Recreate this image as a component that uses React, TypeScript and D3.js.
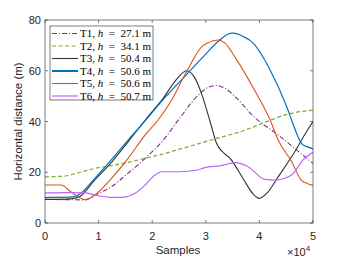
import * as d3 from 'd3';

// x values in samples, y in metres
const t1 = [[0, 9.3], [4000, 9.2], [7500, 9.1], [9300, 11], [12400, 14.3], [15500, 19.6], [18700, 25.5], [21800, 32], [25200, 41.5], [28300, 49.8], [30500, 53.5], [32000, 54.2], [33500, 53.2], [35800, 49.1], [38900, 42], [43500, 34.7], [46600, 29.4], [50000, 23.5]];
const t2 = [[0, 18.2], [3700, 18.5], [6200, 19.8], [9300, 21.5], [12400, 22.6], [15500, 23.9], [18700, 25.5], [21800, 27.1], [25000, 29], [31000, 32.7], [37300, 36.6], [41300, 39.9], [45100, 42.8], [50000, 44.5]];
const t3 = [[0, 9.3], [4000, 9.4], [6200, 10.1], [9300, 17], [12400, 23.9], [15500, 32], [18700, 40.6], [22000, 49], [24500, 56.5], [26400, 60], [28000, 57], [29200, 51], [30800, 40], [32000, 31.4], [34800, 24.8], [37300, 16.3], [38800, 11.5], [40000, 9.7], [41500, 12], [43500, 18.2], [46600, 28.1], [48500, 35], [50000, 40]];
const t4 = [[0, 10.1], [4500, 10.2], [6200, 11], [9300, 17.6], [12400, 25], [15500, 32.7], [18000, 38.6], [22000, 48.5], [26400, 58.5], [29500, 65.5], [32600, 72.1], [34000, 74.3], [35100, 74.8], [37000, 73.5], [38900, 70.8], [40500, 66], [42000, 60.3], [45100, 45.8], [46000, 40.6], [47200, 34], [48000, 31], [49000, 30], [50000, 29.2]];
const t5 = [[0, 15], [3000, 15], [5000, 12], [7500, 9.2], [9300, 11], [12400, 17.6], [15500, 25.5], [18700, 34.7], [21100, 40.6], [23500, 48], [26400, 59.6], [29500, 70], [30200, 70.8], [32300, 72.1], [33500, 71], [35800, 64.2], [38900, 53.1], [42000, 40.6], [43500, 32.7], [46000, 24.2], [47800, 16.9], [49000, 15.5], [50000, 14.8]];
const t6 = [[0, 11.9], [4000, 12], [7500, 11.9], [9300, 11], [12400, 10.1], [14300, 10.1], [16800, 11.7], [18700, 15], [20500, 18.9], [21800, 20.2], [25000, 20.2], [28500, 20.9], [29800, 21.8], [32900, 22.6], [35400, 23.8], [37900, 22.2], [41000, 17.2], [42900, 16.9], [46000, 18.9], [48100, 24.8], [50000, 27.9]];

const names = ['T1', 'T2', 'T3', 'T4', 'T5', 'T6'];
const heights = ['27.1', '34.1', '50.4', '50.6', '50.6', '50.7'];
const xTicks = [0, 10000, 20000, 30000, 40000, 50000];
const yTicks = [0, 20, 40, 60, 80];

const series = [
  { data: t1, color: '#7e2f8e', dash: '5,2,1,2', w: 1.1 },
  { data: t2, color: '#77ac30', dash: '4,2.5', w: 1.2 },
  { data: t3, color: '#333333', dash: null, w: 1.1 },
  { data: t4, color: '#0072bd', dash: null, w: 1.2 },
  { data: t5, color: '#d95319', dash: null, w: 1.1 },
  { data: t6, color: '#c062ff', dash: null, w: 1.2 },
];

const W = 346;
const H = 260;
const m = { left: 45, right: 313, top: 20, bottom: 223 };
const axisColor = '#262626';
const sans = 'Liberation Sans, Arial, sans-serif';
const serif = 'Liberation Serif, Times New Roman, serif';

export default function App() {
  const x = d3.scaleLinear().domain([0, 50000]).range([m.left, m.right]);
  const y = d3.scaleLinear().domain([0, 80]).range([m.bottom, m.top]);
  const line = d3.line<number[]>()
    .x(d => x(d[0]))
    .y(d => y(d[1]))
    .curve(d3.curveMonotoneX);

  const lg = { x: 50, y: 26, w: 103, h: 74 };
  const rowH = 12.5;

  return (
    <svg width={W} height={H} style={{ position: 'absolute', left: 0, top: 0, background: '#fff' }}>
      <defs>
        <clipPath id="plot">
          <rect x={m.left} y={m.top} width={m.right - m.left} height={m.bottom - m.top} />
        </clipPath>
      </defs>
      <rect x={m.left} y={m.top} width={m.right - m.left} height={m.bottom - m.top} fill="#fff" />

      <g clipPath="url(#plot)">
        {series.map((s, i) => (
          <path key={i} d={line(s.data) || ''} fill="none" stroke={s.color}
            strokeWidth={s.w} strokeDasharray={s.dash || undefined} />
        ))}
      </g>

      {/* axes box and ticks */}
      <rect x={m.left} y={m.top} width={m.right - m.left} height={m.bottom - m.top}
        fill="none" stroke={axisColor} strokeWidth={0.6} />
      {xTicks.map(t => (
        <g key={t}>
          <line x1={x(t)} x2={x(t)} y1={m.bottom} y2={m.bottom - 3} stroke={axisColor} strokeWidth={0.6} />
          <line x1={x(t)} x2={x(t)} y1={m.top} y2={m.top + 3} stroke={axisColor} strokeWidth={0.6} />
          <text x={x(t)} y={240} textAnchor="middle" fontFamily={sans} fontSize={11} fill={axisColor}>
            {t / 10000}
          </text>
        </g>
      ))}
      {yTicks.map(t => (
        <g key={t}>
          <line x1={m.left} x2={m.left + 3} y1={y(t)} y2={y(t)} stroke={axisColor} strokeWidth={0.6} />
          <line x1={m.right} x2={m.right - 3} y1={y(t)} y2={y(t)} stroke={axisColor} strokeWidth={0.6} />
          <text x={41} y={y(t) + 4} textAnchor="end" fontFamily={sans} fontSize={11} fill={axisColor}>
            {t}
          </text>
        </g>
      ))}

      <text x={178} y={254} textAnchor="middle" fontFamily={sans} fontSize={11.5} fill={axisColor}>Samples</text>
      <text x={287} y={256} fontFamily={sans} fontSize={11} fill={axisColor}>
        ×10<tspan dy={-5} fontSize={8}>4</tspan>
      </text>
      <text transform={`translate(22,${(m.top + m.bottom) / 2}) rotate(-90)`} textAnchor="middle"
        fontFamily={sans} fontSize={11.5} fill={axisColor}>Horizontal distance (m)</text>

      {/* legend */}
      <rect x={lg.x} y={lg.y} width={lg.w} height={lg.h} fill="#fff" stroke={axisColor} strokeWidth={0.6} />
      {series.map((s, i) => {
        const cy = lg.y + 7.5 + i * rowH;
        return (
          <g key={i}>
            <line x1={52} x2={78} y1={cy} y2={cy} stroke={s.color}
              strokeWidth={i === 3 ? 2 : s.w} strokeDasharray={s.dash || undefined} />
            <text x={80} y={cy + 3.5} fontFamily={serif} fontSize={11} fill="#000">
              {names[i]}, <tspan fontStyle="italic">h</tspan>{'\u2002=\u2002'}{heights[i]}{' m'}
            </text>
          </g>
        );
      })}
    </svg>
  );
}
